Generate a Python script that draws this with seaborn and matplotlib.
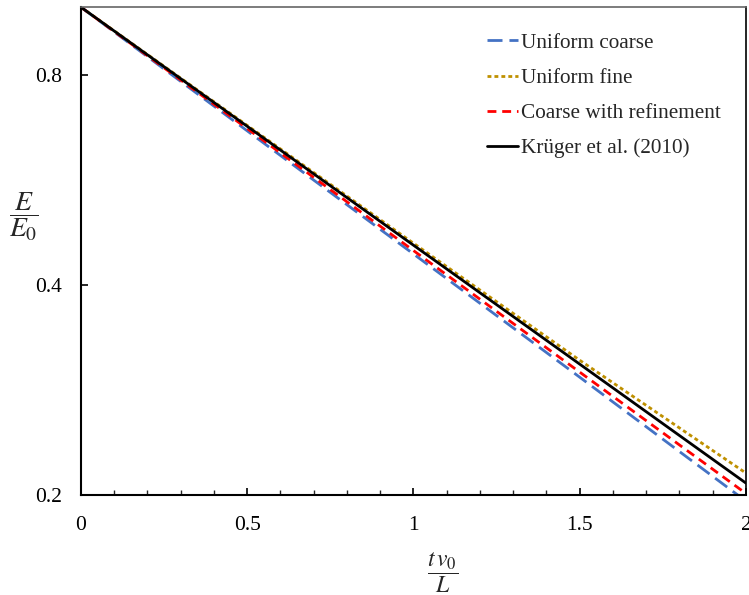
import numpy as np
import pandas as pd
import matplotlib
matplotlib.use("Agg")
import matplotlib.pyplot as plt
from matplotlib import ticker
import seaborn as sns

# datos (E/E0 vs t v0 / L)
t = [0.0, 0.5, 1.0, 1.5, 2.0]
uniform_coarse = [1.0, 0.665, 0.443, 0.295, 0.196]
uniform_fine = [1.0, 0.677, 0.459, 0.312, 0.215]
coarse_refined = [1.0, 0.670, 0.448, 0.300, 0.201]
kruger = [1.0, 0.675, 0.456, 0.308, 0.208]

nombres = ["Uniform coarse", "Uniform fine", "Coarse with refinement", "Krüger et al. (2010)"]
series = [uniform_coarse, uniform_fine, coarse_refined, kruger]

df = pd.DataFrame({
    "t": t * 4,
    "E": sum(series, []),
    "caso": [n for n in nombres for _ in t],
})

sns.set_style("ticks")
plt.rcParams['font.family'] = ['Liberation Serif', 'DejaVu Serif']
plt.rcParams['mathtext.fontset'] = 'stix'

colores = {
    "Uniform coarse": "#4472C4",
    "Uniform fine": "#BF9000",
    "Coarse with refinement": "#FF0000",
    "Krüger et al. (2010)": "#000000",
}
guiones = {
    "Uniform coarse": (5.4, 2.5),
    "Uniform fine": (1.4, 1.1),
    "Coarse with refinement": (3.2, 2.1),
    "Krüger et al. (2010)": "",
}

fig, ax = plt.subplots(figsize=(7.49, 5.95), dpi=100)
fig.subplots_adjust(left=0.108, right=0.996, top=0.988, bottom=0.168)

sns.lineplot(
    data=df, x="t", y="E", hue="caso", style="caso",
    palette=colores, dashes=guiones, hue_order=nombres, style_order=nombres,
    linewidth=2.0, ax=ax
)

ax.set_yscale("log")
ax.set_ylim(0.2, 1.0)
ax.set_xlim(0, 2)
ax.yaxis.set_major_locator(ticker.FixedLocator([0.2, 0.4, 0.8]))
ax.yaxis.set_major_formatter(ticker.FixedFormatter(["0.2", "0.4", "0.8"]))
ax.yaxis.set_minor_locator(ticker.NullLocator())
ax.xaxis.set_major_locator(ticker.MultipleLocator(0.5))
ax.xaxis.set_minor_locator(ticker.MultipleLocator(0.1))
ax.xaxis.set_major_formatter(ticker.FuncFormatter(lambda v, p: f"{v:g}"))

ax.tick_params(axis="both", which="major", direction="in", length=5, width=1.2,
               labelsize=15.5, colors="black")
ax.tick_params(axis="y", which="major", pad=13.5)
ax.tick_params(axis="x", which="major", pad=15)
ax.tick_params(axis="x", which="minor", direction="in", length=3.5, width=1)

for s in ["left", "bottom"]:
    ax.spines[s].set_linewidth(1.5)
    ax.spines[s].set_color("black")
ax.spines["top"].set_color("#666666")
ax.spines["top"].set_linewidth(1.2)
ax.spines["right"].set_color("black")
ax.spines["right"].set_linewidth(1.2)

ax.set_xlabel(r"$\dfrac{t\,v_0}{L}$", fontsize=17, va="center", ha="center")
ax.xaxis.set_label_coords(0.544, -0.160)
ax.set_ylabel(r"$\dfrac{E}{E_0}$", fontsize=20, rotation=0, va="center", ha="center")
ax.yaxis.set_label_coords(-0.0857, 0.57)

ax.legend(title=None, frameon=False, loc="upper left",
          bbox_to_anchor=(487 / 749, 1 - 33 / 595), bbox_transform=fig.transFigure,
          borderpad=0, borderaxespad=0,
          fontsize=15.3, handlelength=1.45, handletextpad=0.14, labelspacing=0.72)

plt.savefig("out.png", dpi=100)
